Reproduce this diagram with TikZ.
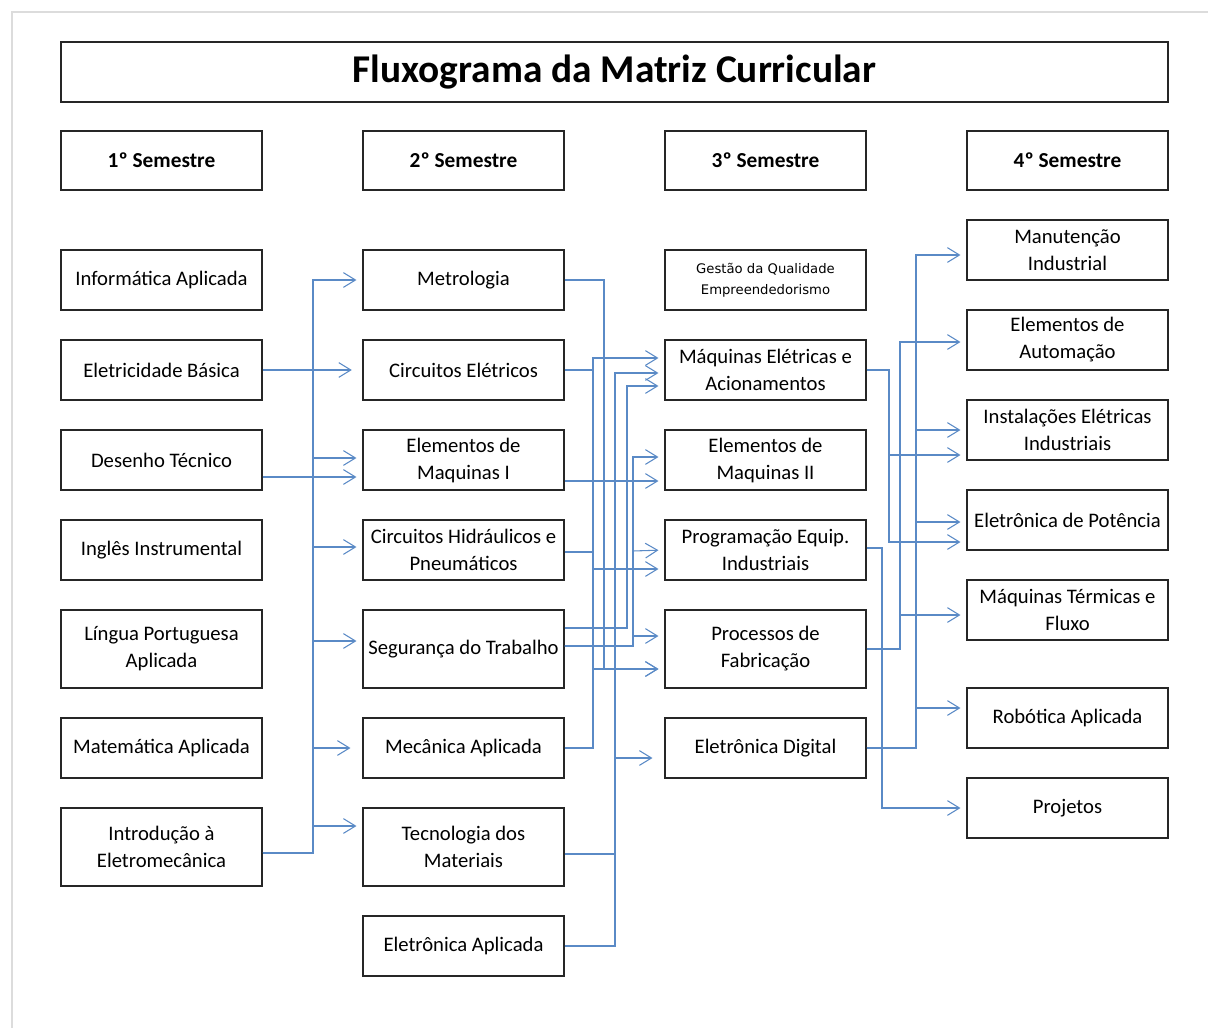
\documentclass[tikz,border=0pt]{standalone}
\usepackage{fontspec}
\setmainfont{Carlito}
\newfontfamily\dejavu{DejaVu Sans}
\usepackage{xcolor}
\usetikzlibrary{positioning, arrows.meta}
\definecolor{flowblue}{HTML}{5A8AC6}
\definecolor{framegray}{HTML}{DCDCDC}
\tikzset{
  subject/.style={draw=black!85, line width=0.8pt, minimum width=150.75pt,
    minimum height=45pt, align=center, inner sep=2pt,
    font=\fontsize{15.5}{20.25}\selectfont},
  tall/.style={minimum height=58.5pt},
  semhead/.style={subject, minimum height=44.25pt,
    font=\fontsize{16}{20.25}\selectfont\bfseries},
  wire/.style={draw=flowblue, line width=0.8pt},
  feed/.style={wire, -{Straight Barb[length=9pt,width=11pt]}, shorten >=4.5pt},
}

\begin{document}
\begin{tikzpicture}[x=0.75pt, y=-0.75pt]
    \useasboundingbox (0,0) rectangle (1208,1028);
    \draw[framegray, line width=0.8pt] (12,1028) -- (12,12) -- (1208,12);

    \node[draw=black!85, line width=0.8pt, minimum width=830.25pt, minimum height=45pt,
          font=\fontsize{29.5}{34}\selectfont\bfseries] (title) at (614.5,72)
          {Fluxograma da Matriz Curricular};

    % semestres
    \node[semhead] (sem1) at (161.5,160.5) {1º Semestre};
    \node[semhead] (sem2) at (463.5,160.5) {2º Semestre};
    \node[semhead] (sem3) at (765.5,160.5) {3º Semestre};
    \node[semhead] (sem4) at (1067.5,160.5) {4º Semestre};

    % 1o semestre
    \node[subject] (info) at (161.5,280) {Informática Aplicada};
    \node[subject] (elet) at (161.5,370) {Eletricidade Básica};
    \node[subject] (desenho) at (161.5,460) {Desenho Técnico};
    \node[subject] (ingles) at (161.5,550) {Inglês Instrumental};
    \node[subject, tall] (portug) at (161.5,649) {Língua Portuguesa\\Aplicada};
    \node[subject] (mat) at (161.5,748) {Matemática Aplicada};
    \node[subject, tall] (intro) at (161.5,847) {Introdução à\\Eletromecânica};

    % 2o semestre
    \node[subject] (metro) at (463.5,280) {Metrologia};
    \node[subject] (circ) at (463.5,370) {Circuitos Elétricos};
    \node[subject] (elem1) at (463.5,460) {Elementos de\\Maquinas I};
    \node[subject] (hidr) at (463.5,550) {Circuitos Hidráulicos e\\Pneumáticos};
    \node[subject, tall] (seg) at (463.5,649) {Segurança do Trabalho};
    \node[subject] (mec) at (463.5,748) {Mecânica Aplicada};
    \node[subject, tall] (tec) at (463.5,847) {Tecnologia dos\\Materiais};
    \node[subject] (eletap) at (463.5,946) {Eletrônica Aplicada};

    % 3o semestre
    \node[subject, font=\dejavu\fontsize{9.9}{15.75}\selectfont] (gestao) at (765.5,280)
          {Gestão da Qualidade\\Empreendedorismo};
    \node[subject] (maq) at (765.5,370) {Máquinas Elétricas e\\Acionamentos};
    \node[subject] (elem2) at (765.5,460) {Elementos de\\Maquinas II};
    \node[subject] (prog) at (765.5,550) {Programação Equip.\\Industriais};
    \node[subject, tall] (proc) at (765.5,649) {Processos de\\Fabricação};
    \node[subject] (dig) at (765.5,748) {Eletrônica Digital};

    % 4o semestre
    \node[subject] (manut) at (1067.5,250) {Manutenção\\Industrial};
    \node[subject] (autom) at (1067.5,340) {Elementos de\\Automação};
    \node[subject] (inst) at (1067.5,430) {Instalações Elétricas\\Industriais};
    \node[subject] (pot) at (1067.5,520) {Eletrônica de Potência};
    \node[subject] (term) at (1067.5,610) {Máquinas Térmicas e\\Fluxo};
    \node[subject] (robo) at (1067.5,718) {Robótica Aplicada};
    \node[subject] (proj) at (1067.5,808) {Projetos};

    % 1o -> 2o
    \draw[feed] ([yshift=-4.5pt]intro.east) -| (313,280) -- (metro.west);
    \draw[feed] ([yshift=-4.5pt]intro.east) -| (313,458) -- ([yshift=1.5pt]elem1.west);
    \draw[feed] ([yshift=-4.5pt]intro.east) -| (313,547) -- ([yshift=2.25pt]hidr.west);
    \draw[feed] ([yshift=-4.5pt]intro.east) -| (313,641) -- ([yshift=6pt]seg.west);
    \draw[feed, shorten >=9pt] ([yshift=-4.5pt]intro.east) -| (313,748) -- (mec.west);
    \draw[feed] ([yshift=-4.5pt]intro.east) -| (313,826) -- ([yshift=15.75pt]tec.west);
    \draw[feed, shorten >=8pt] (elet.east) -- (circ.west);
    \draw[feed] ([yshift=-12.75pt]desenho.east) -- ([yshift=-12.75pt]elem1.west);

    % 2o -> 3o
    \draw[feed] (mec.east) -| (593,358) -- ([yshift=9pt]maq.west);
    \draw[feed] (circ.east) -| (593,569) -- ([yshift=-14.25pt]prog.west);
    \draw[feed] ([yshift=-1.5pt]hidr.east) -| (593,669) -- ([yshift=-15pt]proc.west);
    \draw[feed] (metro.east) -| (604,669) -- ([yshift=-15pt]proc.west);
    \draw[feed] (eletap.east) -| (615,373) -- ([yshift=-2.25pt]maq.west);
    \draw[feed, shorten >=9pt] ([yshift=-5.25pt]tec.east) -| (615,758) -- ([yshift=-7.5pt]dig.west);
    \draw[feed] ([yshift=15.75pt]seg.east) -| (627,386) -- ([yshift=-12pt]maq.west);
    \draw[feed] ([yshift=2.25pt]seg.east) -| (633,457) -- ([yshift=2.25pt]elem2.west);
    \draw[feed] ([yshift=2.25pt]seg.east) -| (633,551) -- (prog.west);
    \draw[feed] ([yshift=2.25pt]seg.east) -| (633,636) -- ([yshift=9.75pt]proc.west);
    \draw[feed] ([yshift=-15.75pt]elem1.east) -- ([yshift=-15.75pt]elem2.west);

    % 3o -> 4o
    \draw[feed] (dig.east) -| (916,255) -- ([yshift=-3.75pt]manut.west);
    \draw[feed] (dig.east) -| (916,430) -- (inst.west);
    \draw[feed] (dig.east) -| (916,522) -- ([yshift=-1.5pt]pot.west);
    \draw[feed] (dig.east) -| (916,708) -- ([yshift=7.5pt]robo.west);
    \draw[feed] (proc.east) -| (900,342) -- ([yshift=-1.5pt]autom.west);
    \draw[feed] (proc.east) -| (900,615) -- ([yshift=-3.75pt]term.west);
    \draw[feed] (maq.east) -| (889,455) -- ([yshift=-18.75pt]inst.west);
    \draw[feed] (maq.east) -| (889,542) -- ([yshift=-16.5pt]pot.west);
    \draw[feed] ([yshift=1.5pt]prog.east) -| (882,808) -- (proj.west);
\end{tikzpicture}
\end{document}
